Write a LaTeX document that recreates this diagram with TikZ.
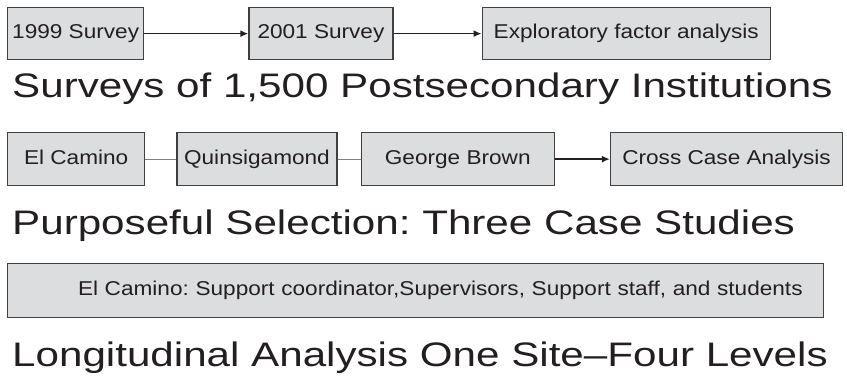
\documentclass[tikz,border=0pt]{standalone}
\usepackage{fontspec}
\setmainfont{Liberation Sans}
\newfontfamily\boxfont[FakeStretch=1.13]{Liberation Sans}
\newfontfamily\titlefont[FakeStretch=1.24]{Liberation Sans}
\usetikzlibrary{positioning}
\usetikzlibrary{arrows.meta}
\frenchspacing
\definecolor{boxgray}{RGB}{220,221,223}
\definecolor{edgegray}{RGB}{64,64,64}
\definecolor{inkblack}{RGB}{35,31,32}
\tikzstyle{stagebox} = [draw=edgegray, fill=boxgray, line width=1.3pt,
rectangle, inner sep=0pt, minimum height=52pt, text=inkblack,
text height=14.5pt, text depth=4pt,
font=\boxfont\fontsize{20}{24}\selectfont]
\tikzstyle{stagetitle} = [text=inkblack, anchor=base west, inner sep=0pt,
font=\titlefont\fontsize{34}{40}\selectfont]
\tikzstyle{flow} = [draw=inkblack, line width=1.6pt, -{Latex[length=8pt,width=7pt]}]
\tikzstyle{link} = [draw=gray, line width=1pt]

\begin{document}
\begin{tikzpicture}[x=1pt,y=1pt]
        \useasboundingbox (0,0) rectangle (847,-377);
        % surveys
        \node[stagebox, minimum width=136pt, anchor=north west] (s1999) at (7,-7) {1999 Survey};
        \node[stagebox, minimum width=144pt, right=104pt of s1999] (s2001) {2001 Survey};
        \node[stagebox, minimum width=288pt, right=88pt of s2001] (efa) {Exploratory factor analysis};
        \draw[flow] (s1999) -- (s2001);
        \draw[flow] (s2001) -- (efa);
        \node[stagetitle] (surveys) at (12,-98) {Surveys of 1,500 Postsecondary Institutions};
        % case studies
        \node[stagebox, minimum width=137pt, minimum height=53pt, anchor=north west] (camino) at (7,-132) {El Camino};
        \node[stagebox, minimum width=160pt, minimum height=53pt, right=31pt of camino] (quins) {Quinsigamond};
        \node[stagebox, minimum width=193pt, minimum height=53pt, right=23pt of quins] (brown) {George Brown};
        \node[stagebox, minimum width=232pt, minimum height=53pt, right=55pt of brown] (cross) {Cross Case Analysis};
        \draw[link] (camino) -- (quins);
        \draw[link] (quins) -- (brown);
        \draw[flow] (brown) -- (cross);
        \node[stagetitle] (cases) at (12,-234) {Purposeful Selection: Three Case Studies};
        % one site
        \node[stagebox, minimum height=54pt, inner xsep=21pt, text width=774pt, align=right,
            anchor=north west] (levels) at (7,-263)
            {El Camino: Support coordinator,Supervisors, Support staff, and students};
        \node[stagetitle] (longit) at (12,-366) {Longitudinal Analysis One Site–Four Levels};
    \end{tikzpicture}
\end{document}
